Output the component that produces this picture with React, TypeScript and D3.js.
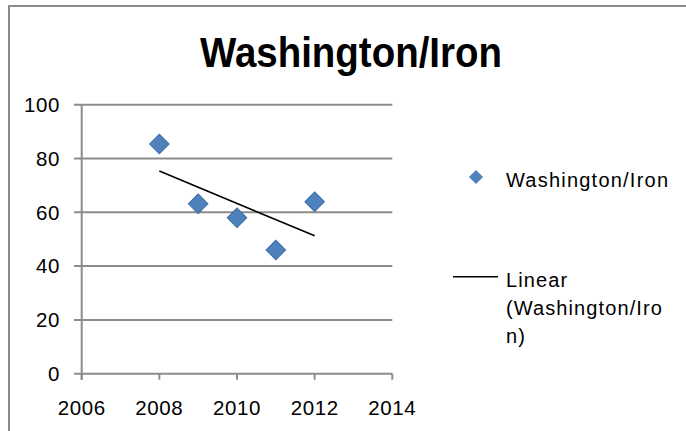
import React from "react";
import * as d3 from "d3";

const years = [2008, 2009, 2010, 2011, 2012];
const ironValues = [85.4, 63.2, 58.0, 46.0, 63.9];
const xTicks = [2006, 2008, 2010, 2012, 2014];
const yTicks = [0, 20, 40, 60, 80, 100];
const title = "Washington/Iron";
const seriesName = "Washington/Iron";
const trendLabel = ["Linear", "(Washington/Iro", "n)"];

const W = 686;
const H = 431;
const FONT = "'Liberation Sans', Arial, sans-serif";

export default function App() {
  const x = d3.scaleLinear().domain([2006, 2014]).range([81.7, 392.3]);
  const y = d3.scaleLinear().domain([0, 100]).range([373.7, 104.7]);

  // least squares linear trend
  const mx = d3.mean(years) as number;
  const my = d3.mean(ironValues) as number;
  let num = 0, den = 0;
  years.forEach((yr, i) => {
    num += (yr - mx) * (ironValues[i] - my);
    den += (yr - mx) * (yr - mx);
  });
  const slope = num / den;
  const icpt = my - slope * mx;
  const x0 = d3.min(years) as number;
  const x1 = d3.max(years) as number;
  const trend = d3.line<[number, number]>()
    .x((d) => x(d[0]))
    .y((d) => y(d[1]))([
      [x0, icpt + slope * x0],
      [x1, icpt + slope * x1],
    ]);

  const marker = d3.symbol().type(d3.symbolSquare).size(190)() as string;
  const legendMarker = d3.symbol().type(d3.symbolSquare).size(100)() as string;
  const grid = "#8c8c8c";
  const blue = "#4f81bd";

  return (
    <svg
      width={W}
      height={H}
      style={{ position: "absolute", left: 0, top: 0, background: "#fff" }}
    >
      <rect x={0} y={0} width={W} height={H} fill="#fff" />
      {/* outer frame */}
      <path d={`M9,${H + 5} L9,6 L${W + 5},6`} fill="none" stroke="#8a8a8a" strokeWidth={2} />

      {/* title */}
      <text
        x={351}
        y={66.5}
        textAnchor="middle"
        fontFamily={FONT}
        fontWeight="bold"
        fontSize={43}
        textLength={302}
        lengthAdjust="spacingAndGlyphs"
        fill="#000"
      >
        {title}
      </text>

      {/* gridlines */}
      {yTicks.map((t) => (
        <line key={"g" + t} x1={74} x2={x(2014)} y1={y(t)} y2={y(t)} stroke={grid} strokeWidth={2} />
      ))}
      {/* y axis line */}
      <line x1={x(2006)} x2={x(2006)} y1={y(100)} y2={y(0) + 6} stroke={grid} strokeWidth={2} />
      {/* x ticks */}
      {xTicks.map((t) => (
        <line key={"xt" + t} x1={x(t)} x2={x(t)} y1={y(0)} y2={y(0) + 6} stroke={grid} strokeWidth={2} />
      ))}

      {/* y tick labels */}
      {yTicks.map((t) => (
        <text
          key={"yl" + t}
          x={60}
          y={y(t) + 7.3}
          textAnchor="end"
          fontFamily={FONT}
          fontSize={20.5}
          letterSpacing={0.6}
          fill="#000"
        >
          {t}
        </text>
      ))}
      {/* x tick labels */}
      {xTicks.map((t) => (
        <text
          key={"xl" + t}
          x={x(t)}
          y={415}
          textAnchor="middle"
          fontFamily={FONT}
          fontSize={20.5}
          letterSpacing={0.6}
          fill="#000"
        >
          {t}
        </text>
      ))}

      {/* data points */}
      {years.map((yr, i) => (
        <path
          key={"p" + yr}
          d={marker}
          transform={`translate(${x(yr)},${y(ironValues[i])}) rotate(45)`}
          fill={blue}
          stroke="#3d6ea8"
          strokeWidth={1}
        />
      ))}

      {/* trend line */}
      <path d={trend as string} fill="none" stroke="#000" strokeWidth={1.6} />

      {/* legend */}
      <path d={legendMarker} transform="translate(476,177) rotate(45)" fill={blue} />
      <text x={506} y={187} fontFamily={FONT} fontSize={20} textLength={162} lengthAdjust="spacing" fill="#000">
        {seriesName}
      </text>
      <line x1={453} x2={498} y1={276.7} y2={276.7} stroke="#000" strokeWidth={1.6} />
      {trendLabel.map((s, i) => (
        <text
          key={"tl" + i}
          x={506}
          y={286.5 + i * 28}
          fontFamily={FONT}
          fontSize={20}
          letterSpacing={1.1}
          fill="#000"
        >
          {s}
        </text>
      ))}
    </svg>
  );
}
